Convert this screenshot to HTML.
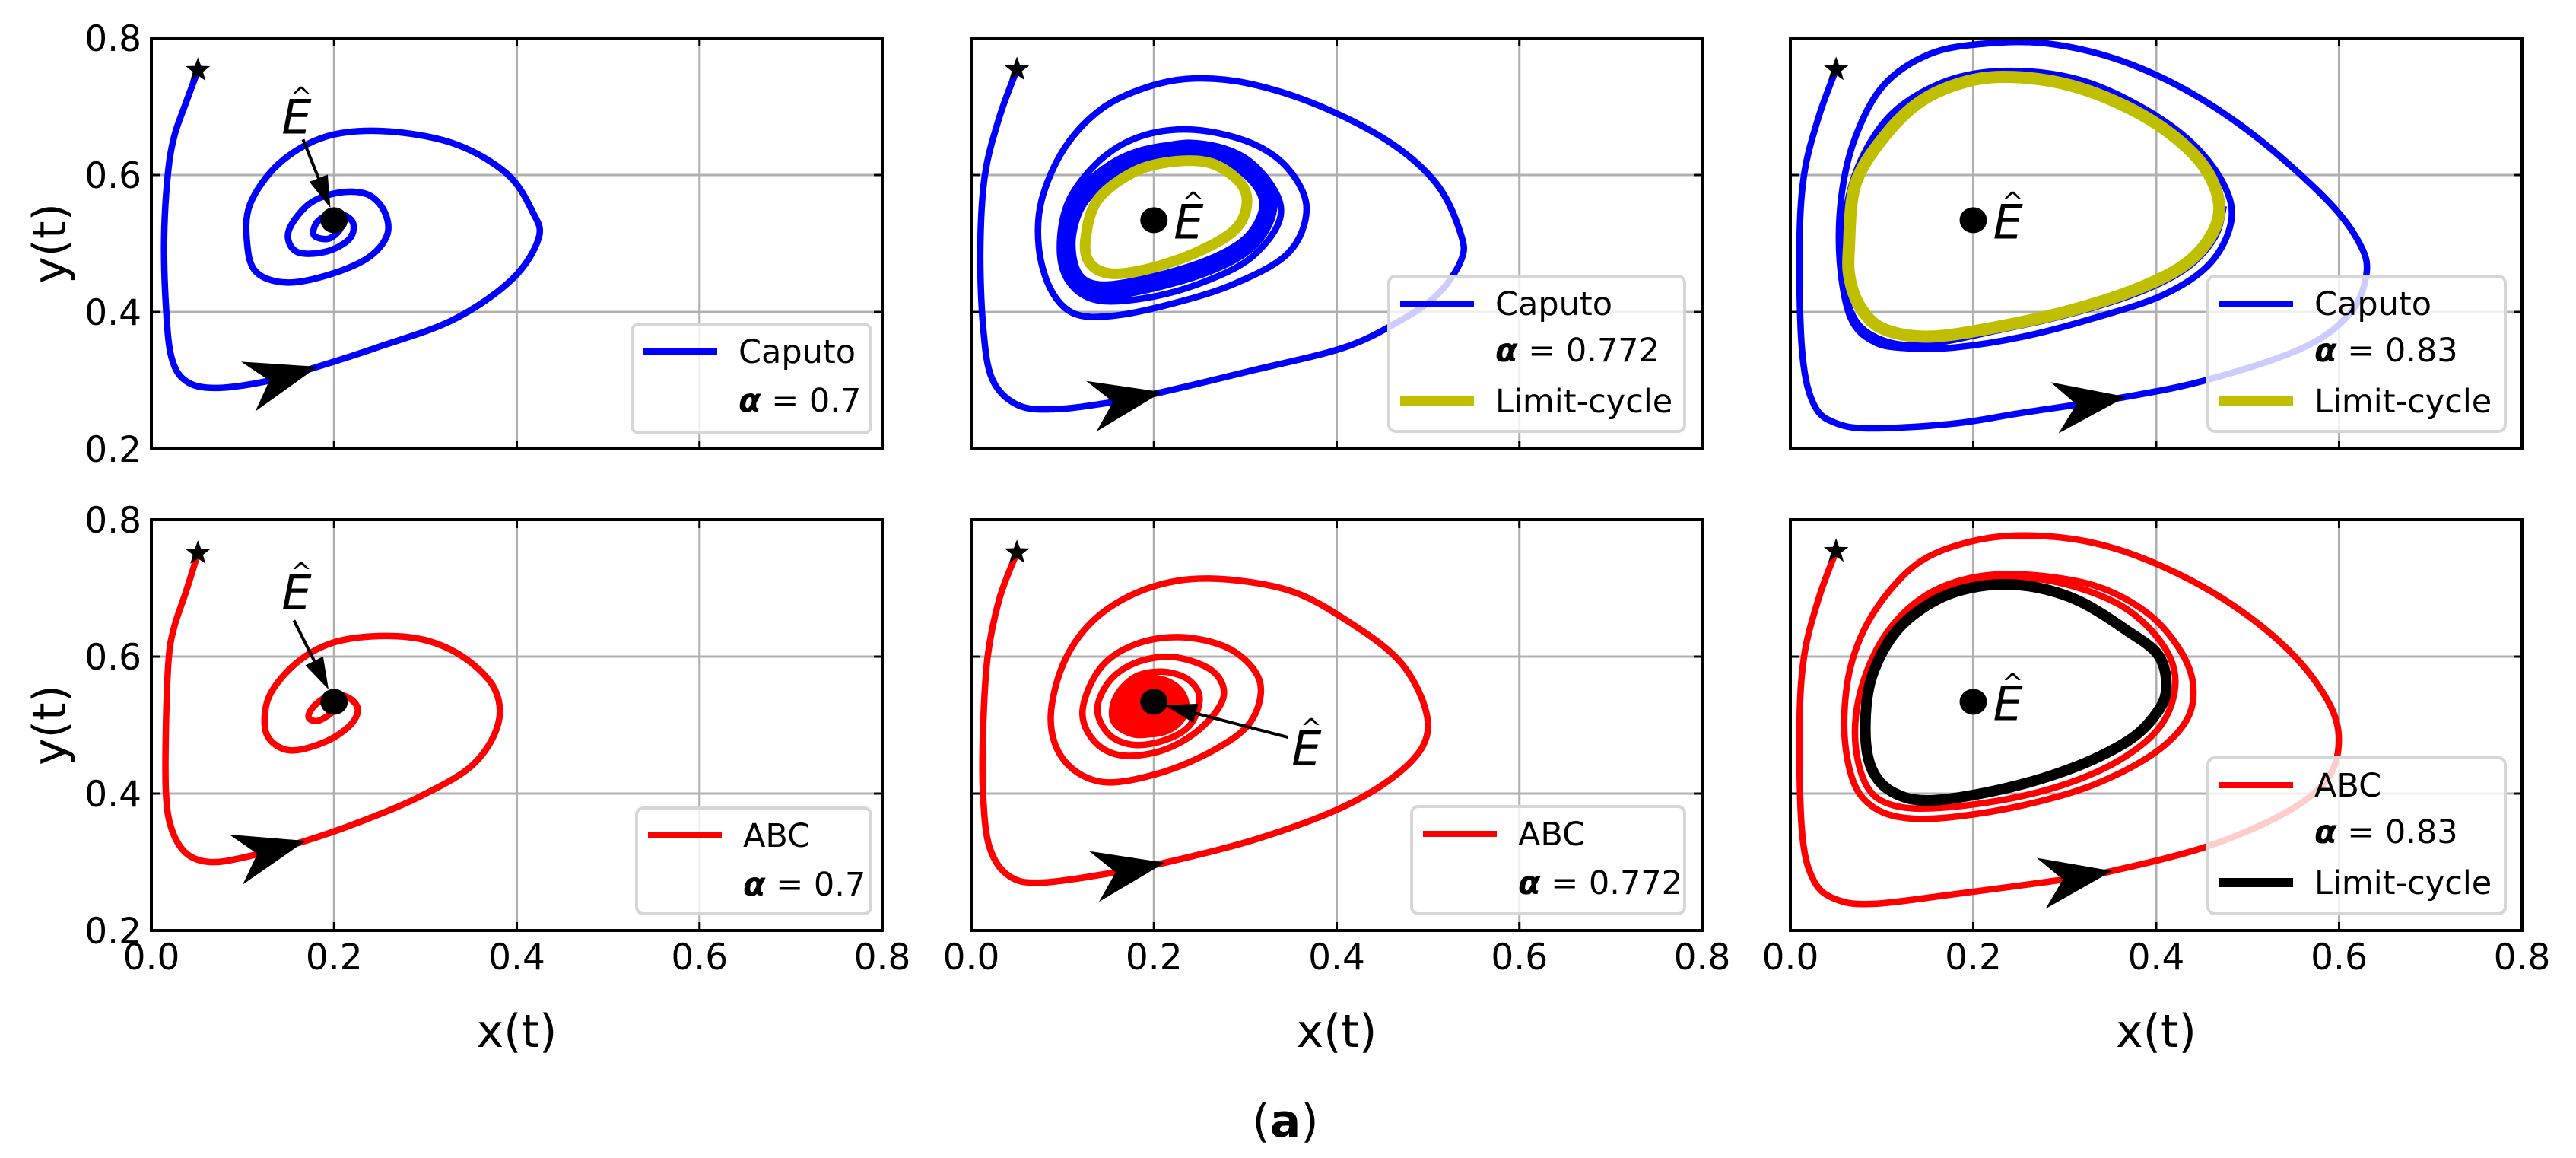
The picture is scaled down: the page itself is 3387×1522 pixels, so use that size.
<!DOCTYPE html>
<html><head><meta charset="utf-8"><style>
html,body{margin:0;padding:0;background:#fff}
svg{display:block}
text{font-family:"DejaVu Sans","Liberation Sans",sans-serif}
</style></head><body>
<svg id="fig" width="3387" height="1522" viewBox="0 0 3387 1522" xmlns="http://www.w3.org/2000/svg"></svg>
<script>
// ---------- data ----------
const xTicks = [0.0, 0.2, 0.4, 0.6, 0.8];
const yTicks = [0.2, 0.4, 0.6, 0.8];
const xTickLabels = ["0.0", "0.2", "0.4", "0.6", "0.8"];
const yTickLabels = ["0.2", "0.4", "0.6", "0.8"];
const equilibrium = [0.2, 0.534];

const caputo07 = [[0.051,0.753],[0.038,0.706],[0.025,0.656],[0.018,0.6],[0.014,0.507],[0.016,0.408],[0.022,0.334],[0.038,0.299],[0.07,0.289],[0.127,0.299],[0.182,0.32],[0.249,0.349],[0.331,0.389],[0.395,0.448],[0.424,0.508],[0.417,0.547],[0.389,0.602],[0.331,0.646],[0.255,0.664],[0.191,0.656],[0.14,0.617],[0.108,0.557],[0.105,0.498],[0.115,0.458],[0.147,0.443],[0.191,0.453],[0.236,0.478],[0.258,0.512],[0.255,0.547],[0.236,0.572],[0.204,0.574],[0.172,0.557],[0.15,0.517],[0.159,0.488],[0.191,0.488],[0.217,0.507],[0.22,0.532],[0.201,0.545],[0.182,0.532],[0.178,0.512],[0.194,0.507],[0.207,0.522],[0.201,0.535]];
const abc07 = [[0.051,0.751],[0.038,0.695],[0.025,0.643],[0.019,0.597],[0.016,0.499],[0.016,0.401],[0.022,0.349],[0.038,0.313],[0.064,0.3],[0.102,0.307],[0.169,0.331],[0.229,0.359],[0.293,0.395],[0.351,0.441],[0.379,0.499],[0.376,0.552],[0.344,0.597],[0.3,0.624],[0.249,0.63],[0.198,0.62],[0.159,0.591],[0.13,0.545],[0.124,0.499],[0.134,0.473],[0.156,0.463],[0.191,0.476],[0.217,0.499],[0.226,0.522],[0.217,0.539],[0.198,0.545],[0.179,0.529],[0.172,0.512],[0.182,0.506],[0.198,0.519],[0.201,0.532]];
const caputo0772 = [[0.05,0.754],[0.031,0.685],[0.015,0.6],[0.01,0.494],[0.013,0.379],[0.023,0.302],[0.051,0.264],[0.092,0.258],[0.153,0.268],[0.209,0.283],[0.306,0.314],[0.408,0.348],[0.469,0.387],[0.51,0.425],[0.536,0.475],[0.536,0.513],[0.51,0.586],[0.459,0.647],[0.383,0.7],[0.306,0.733],[0.245,0.741],[0.194,0.729],[0.143,0.697],[0.102,0.639],[0.077,0.563],[0.074,0.494],[0.087,0.433],[0.112,0.398],[0.153,0.394],[0.214,0.41],[0.286,0.44],[0.347,0.486],[0.367,0.551],[0.347,0.609],[0.306,0.647],[0.245,0.666],[0.189,0.658],[0.143,0.624],[0.107,0.563],[0.097,0.494],[0.107,0.444],[0.138,0.417],[0.194,0.421],[0.255,0.444],[0.306,0.479],[0.337,0.532],[0.332,0.578],[0.296,0.628],[0.24,0.647],[0.18,0.632]];
const caputo0772Band = [[0.105,0.513],[0.122,0.570],[0.168,0.618],[0.224,0.636],[0.276,0.630],[0.314,0.593],[0.325,0.551],[0.304,0.501],[0.255,0.465],[0.179,0.437],[0.133,0.433],[0.110,0.458]];
const limitCycle0772 = [[0.125,0.505],[0.138,0.563],[0.179,0.605],[0.224,0.620],[0.265,0.616],[0.296,0.586],[0.301,0.551],[0.286,0.517],[0.245,0.486],[0.194,0.463],[0.153,0.456],[0.130,0.471]];
const abc0772 = [[0.05,0.752],[0.031,0.685],[0.018,0.6],[0.013,0.494],[0.013,0.398],[0.02,0.322],[0.041,0.28],[0.077,0.27],[0.158,0.285],[0.212,0.299],[0.306,0.331],[0.398,0.375],[0.459,0.421],[0.495,0.471],[0.497,0.524],[0.469,0.593],[0.413,0.651],[0.347,0.697],[0.26,0.714],[0.194,0.7],[0.138,0.658],[0.102,0.593],[0.087,0.509],[0.102,0.448],[0.143,0.417],[0.204,0.429],[0.265,0.463],[0.306,0.505],[0.316,0.563],[0.286,0.609],[0.235,0.628],[0.184,0.62],[0.143,0.586],[0.122,0.524],[0.133,0.479],[0.163,0.456],[0.209,0.463],[0.25,0.494],[0.276,0.54],[0.265,0.578],[0.224,0.599],[0.184,0.593],[0.153,0.567],[0.138,0.524],[0.151,0.486],[0.179,0.471],[0.214,0.479],[0.24,0.501],[0.25,0.54],[0.237,0.567],[0.209,0.578],[0.179,0.57],[0.158,0.54],[0.156,0.505],[0.179,0.486],[0.21,0.49]];
const abc0772Blob = [0.196, 0.528, 0.043, 0.046];
const caputo083 = [[0.05,0.754],[0.031,0.685],[0.015,0.6],[0.01,0.494],[0.013,0.341],[0.026,0.264],[0.051,0.237],[0.092,0.23],[0.179,0.237],[0.255,0.253],[0.367,0.276],[0.459,0.302],[0.561,0.348],[0.612,0.398],[0.63,0.456],[0.622,0.501],[0.587,0.563],[0.51,0.655],[0.434,0.723],[0.357,0.769],[0.281,0.792],[0.214,0.792],[0.153,0.777],[0.102,0.731],[0.071,0.655],[0.056,0.57],[0.054,0.475],[0.066,0.391],[0.092,0.356],[0.128,0.347],[0.179,0.348],[0.255,0.364],[0.332,0.391],[0.408,0.425],[0.459,0.471],[0.482,0.532],[0.474,0.586],[0.439,0.647],[0.383,0.7],[0.316,0.739],[0.245,0.752],[0.179,0.741],[0.122,0.702],[0.087,0.647],[0.064,0.57],[0.057,0.475],[0.067,0.398],[0.095,0.362],[0.143,0.352],[0.23,0.374],[0.306,0.397],[0.38,0.428],[0.433,0.464],[0.464,0.509],[0.474,0.555]];
const limitCycle083 = [[0.064,0.494],[0.071,0.586],[0.102,0.655],[0.143,0.708],[0.194,0.737],[0.245,0.743],[0.306,0.731],[0.367,0.7],[0.418,0.658],[0.454,0.609],[0.469,0.555],[0.459,0.509],[0.429,0.467],[0.378,0.433],[0.306,0.402],[0.23,0.379],[0.153,0.364],[0.102,0.375],[0.077,0.406],[0.065,0.448]];
const abc083 = [[0.05,0.754],[0.031,0.685],[0.015,0.6],[0.01,0.494],[0.013,0.341],[0.026,0.272],[0.051,0.245],[0.092,0.239],[0.179,0.253],[0.296,0.274],[0.352,0.287],[0.454,0.322],[0.536,0.368],[0.582,0.413],[0.599,0.463],[0.592,0.524],[0.551,0.601],[0.485,0.674],[0.408,0.731],[0.332,0.766],[0.255,0.777],[0.194,0.767],[0.138,0.735],[0.092,0.666],[0.066,0.586],[0.059,0.494],[0.069,0.417],[0.092,0.379],[0.128,0.364],[0.179,0.366],[0.255,0.383],[0.332,0.413],[0.398,0.459],[0.434,0.509],[0.44,0.563],[0.423,0.616],[0.388,0.666],[0.332,0.704],[0.255,0.72],[0.194,0.714],[0.143,0.685],[0.102,0.628],[0.077,0.551],[0.071,0.475],[0.084,0.41],[0.112,0.383],[0.163,0.379],[0.245,0.394],[0.316,0.421],[0.372,0.459],[0.408,0.505],[0.421,0.563],[0.408,0.616],[0.367,0.67],[0.306,0.704],[0.245,0.716],[0.184,0.708],[0.133,0.674],[0.097,0.616],[0.077,0.532]];
const limitCycleABC083 = [[0.082,0.494],[0.089,0.57],[0.117,0.639],[0.163,0.685],[0.214,0.704],[0.265,0.702],[0.316,0.681],[0.367,0.639],[0.403,0.601],[0.411,0.551],[0.398,0.513],[0.367,0.475],[0.306,0.436],[0.23,0.406],[0.153,0.39],[0.112,0.402],[0.089,0.436]];

// ---------- layout ----------
const NS = "http://www.w3.org/2000/svg";
const svg = document.getElementById("fig");
const BLUE = "#0000ff", RED = "#ff0000", OLIVE = "#bfbf00";
function el(tag, attrs, parent) {
  const e = document.createElementNS(NS, tag);
  for (const k in attrs) e.setAttribute(k, attrs[k]);
  (parent || svg).appendChild(e);
  return e;
}
function makePanel(x0, y0, w, h) {
  return { x0, y0, w, h, X: v => x0 + v / 0.8 * w, Y: v => y0 + (0.8 - v) / 0.6 * h };
}
function smoothPath(P, pts, closed) {
  const p = pts.map(q => [P.X(q[0]), P.Y(q[1])]);
  const n = p.length;
  const g = i => closed ? p[(i + n) % n] : p[Math.max(0, Math.min(n - 1, i))];
  let d = `M${p[0][0].toFixed(1)},${p[0][1].toFixed(1)}`;
  const segs = closed ? n : n - 1;
  for (let i = 0; i < segs; i++) {
    const p0 = g(i - 1), p1 = g(i), p2 = g(i + 1), p3 = g(i + 2);
    const c1 = [p1[0] + (p2[0] - p0[0]) / 6, p1[1] + (p2[1] - p0[1]) / 6];
    const c2 = [p2[0] - (p3[0] - p1[0]) / 6, p2[1] - (p3[1] - p1[1]) / 6];
    d += ` C${c1[0].toFixed(1)},${c1[1].toFixed(1)} ${c2[0].toFixed(1)},${c2[1].toFixed(1)} ${p2[0].toFixed(1)},${p2[1].toFixed(1)}`;
  }
  if (closed) d += "Z";
  return d;
}
function drawAxes(P, showY, showX) {
  const g = el("g", {});
  
  
  xTicks.forEach((t, i) => {
    const x = P.X(t);
    if (i > 0 && i < xTicks.length - 1) {
      const l = el("line", { x1: x, x2: x, y1: P.y0, y2: P.y0 + P.h, stroke: "#b0b0b0", "stroke-width": 3 }, g);
      
      
      el("line", { x1: x, x2: x, y1: P.y0 + P.h, y2: P.y0 + P.h - 11, stroke: "#000", "stroke-width": 3 }, g);
      el("line", { x1: x, x2: x, y1: P.y0, y2: P.y0 + 11, stroke: "#000", "stroke-width": 3 }, g);
    }
    if (showX) {
      const tx = el("text", { x: x, y: P.y0 + P.h + 51, "font-size": 47, "text-anchor": "middle" }, g);
      tx.textContent = xTickLabels[i];
      
      
    }
  });
  yTicks.forEach((t, i) => {
    const y = P.Y(t);
    if (i > 0 && i < yTicks.length - 1) {
      const l = el("line", { x1: P.x0, x2: P.x0 + P.w, y1: y, y2: y, stroke: "#b0b0b0", "stroke-width": 3 }, g);
      
      
      el("line", { x1: P.x0, x2: P.x0 + 11, y1: y, y2: y, stroke: "#000", "stroke-width": 3 }, g);
      el("line", { x1: P.x0 + P.w, x2: P.x0 + P.w - 11, y1: y, y2: y, stroke: "#000", "stroke-width": 3 }, g);
    }
    if (showY) {
      const ty = el("text", { x: 186, y: y + 17, "font-size": 47, "text-anchor": "end" }, g);
      ty.textContent = yTickLabels[i];
      
      
    }
  });
  if (showY) {
    const cy = P.y0 + P.h / 2;
    const yl = el("text", { x: 0, y: 0, "font-size": 60, "text-anchor": "middle", transform: `translate(86,${cy}) rotate(-90)` }, g);
    yl.textContent = "y(t)";
    
    
  }
  if (showX) {
    const xl = el("text", { x: P.x0 + P.w / 2, y: P.y0 + P.h + 153, "font-size": 60, "text-anchor": "middle" }, g);
    xl.textContent = "x(t)";
    
    
  }
}
function drawFrame(P) {
  const r = el("rect", { x: P.x0, y: P.y0, width: P.w, height: P.h, fill: "none", stroke: "#000", "stroke-width": 4 });
  
  
}
function drawCurve(P, pts, color, width, closed, name) {
  const p = el("path", { d: smoothPath(P, pts, closed), fill: "none", stroke: color, "stroke-width": width, "stroke-linejoin": "round", "stroke-linecap": "butt" });
  
  
}
function drawArrow(P, pts, idx) {
  const tip = [P.X(pts[idx][0]), P.Y(pts[idx][1])];
  const prev = [P.X(pts[idx - 1][0]), P.Y(pts[idx - 1][1])];
  let ux = tip[0] - prev[0], uy = tip[1] - prev[1];
  const L = Math.hypot(ux, uy); ux /= L; uy /= L;
  const vx = -uy, vy = ux;
  const b = 95, hw = 34, nd = 66;
  const pt = (a, c) => `${(tip[0] - ux * a + vx * c).toFixed(1)},${(tip[1] - uy * a + vy * c).toFixed(1)}`;
  const a = el("polygon", { points: `${tip[0]},${tip[1]} ${pt(b, hw)} ${pt(nd, 0)} ${pt(b, -hw)}`, fill: "#000" });
  
  
}
function drawStar(P, pt) {
  const cx = P.X(pt[0]), cy = P.Y(pt[1]);
  let s = "";
  for (let i = 0; i < 10; i++) {
    const r = i % 2 ? 7 : 17, ang = -Math.PI / 2 + i * Math.PI / 5;
    s += `${(cx + r * Math.cos(ang)).toFixed(1)},${(cy + r * Math.sin(ang)).toFixed(1)} `;
  }
  const st = el("polygon", { points: s, fill: "#000" });
  
  
}
function drawEq(P) {
  const c = el("ellipse", { cx: P.X(equilibrium[0]), cy: P.Y(equilibrium[1]), rx: 18, ry: 17, fill: "#000" });
  
  
}
function drawEhat(P, x, y) {
  const cx = P.X(x), cy = P.Y(y);
  const t = el("text", { x: cx, y: cy + 23, "font-size": 62, "font-style": "italic", "text-anchor": "middle" });
  t.textContent = "E";
  
  
  const h = el("text", { x: cx + 6, y: cy - 14, "font-size": 34, "text-anchor": "middle" });
  h.textContent = "^";
  
  
}
function drawAnnot(P, from, to) {
  const x1 = P.X(from[0]), y1 = P.Y(from[1]), x2 = P.X(to[0]), y2 = P.Y(to[1]);
  let ux = x2 - x1, uy = y2 - y1; const L = Math.hypot(ux, uy); ux /= L; uy /= L;
  const hl = 42, hw = 13;
  el("line", { x1: x1, y1: y1, x2: x2 - ux * hl * 0.8, y2: y2 - uy * hl * 0.8, stroke: "#000", "stroke-width": 4 });
  const hd = el("polygon", { points: `${x2},${y2} ${x2 - ux * hl - uy * hw},${y2 - uy * hl + ux * hw} ${x2 - ux * hl + uy * hw},${y2 - uy * hl - ux * hw}`, fill: "#000" });
  
  
}
function drawLegend(x, y, w, h, entries) {
  const g = el("g", {});
  
  
  el("rect", { x: x, y: y, width: w, height: h, rx: 9, fill: "rgba(255,255,255,0.8)", stroke: "#d6d6d6", "stroke-width": 4 }, g);
  entries.forEach(e => {
    if (e.color) {
      const ln = el("line", { x1: x + 15, x2: x + 112, y1: y + e.dy, y2: y + e.dy, stroke: e.color, "stroke-width": e.lw }, g);
      
      
    }
    const t = el("text", { x: x + 140, y: y + e.dy + 15, "font-size": 43 }, g);
    
    
    if (e.alpha) {
      const a = el("tspan", { "font-weight": "bold", "font-style": "italic" }, t);
      a.textContent = "\u03b1";
      const r = el("tspan", {}, t);
      r.textContent = " = " + e.alpha;
    } else t.textContent = e.label;
  });
}

const colX = [199, 1277, 2354], colW = [961, 961, 962], rowY = [50, 683], H = 540;
const P = [];
for (let r = 0; r < 2; r++) for (let c = 0; c < 3; c++) P.push(makePanel(colX[c], rowY[r], colW[c], H));
P.forEach((p, i) => drawAxes(p, i % 3 === 0, i >= 3));

const LW = 8.5;
// top-left
drawCurve(P[0], caputo07, BLUE, LW, false, 'caputo-trajectory');
drawArrow(P[0], caputo07, 10); drawStar(P[0], caputo07[0]); drawEq(P[0]);
drawAnnot(P[0], [0.166, 0.652], [0.196, 0.552]); drawEhat(P[0], 0.159, 0.686);
// top-middle
drawCurve(P[1], caputo0772, BLUE, LW, false, 'caputo-trajectory');
drawCurve(P[1], caputo0772Band, BLUE, 24, true, 'caputo-converging-band');
drawCurve(P[1], limitCycle0772, OLIVE, 14, true, 'limit-cycle');
drawArrow(P[1], caputo0772, 9); drawStar(P[1], caputo0772[0]); drawEq(P[1]); drawEhat(P[1], 0.238, 0.533);
// top-right
drawCurve(P[2], caputo083, BLUE, LW, false, 'caputo-trajectory');
drawCurve(P[2], limitCycle083, OLIVE, 16, true, 'limit-cycle');
drawArrow(P[2], caputo083, 10); drawStar(P[2], caputo083[0]); drawEq(P[2]); drawEhat(P[2], 0.238, 0.533);
// bottom-left
drawCurve(P[3], abc07, RED, LW, false, 'abc-trajectory');
drawArrow(P[3], abc07, 10); drawStar(P[3], abc07[0]); drawEq(P[3]);
drawAnnot(P[3], [0.156, 0.653], [0.194, 0.552]); drawEhat(P[3], 0.159, 0.695);
// bottom-middle
drawCurve(P[4], abc0772, RED, LW, false, 'abc-trajectory');
(function () {
  const b = el("ellipse", { cx: P[4].X(abc0772Blob[0]), cy: P[4].Y(abc0772Blob[1]), rx: abc0772Blob[2] / 0.8 * P[4].w, ry: abc0772Blob[3] / 0.6 * H, fill: RED });
  
  
})();
drawArrow(P[4], abc0772, 9); drawStar(P[4], abc0772[0]); drawEq(P[4]);
drawAnnot(P[4], [0.347, 0.482], [0.212, 0.529]); drawEhat(P[4], 0.367, 0.467);
// bottom-right
drawCurve(P[5], abc083, RED, LW, false, 'abc-trajectory');
drawCurve(P[5], limitCycleABC083, "#000", 14, true, 'limit-cycle');
drawArrow(P[5], abc083, 10); drawStar(P[5], abc083[0]); drawEq(P[5]); drawEhat(P[5], 0.238, 0.533);

P.forEach(drawFrame);

drawLegend(831, 426, 314, 143, [{ color: BLUE, lw: 8, dy: 36, label: "Caputo" }, { alpha: "0.7", dy: 100 }]);
drawLegend(1826, 363, 389, 204, [{ color: BLUE, lw: 8, dy: 36, label: "Caputo" }, { alpha: "0.772", dy: 97 }, { color: OLIVE, lw: 12, dy: 164, label: "Limit-cycle" }]);
drawLegend(2903, 363, 391, 204, [{ color: BLUE, lw: 8, dy: 36, label: "Caputo" }, { alpha: "0.83", dy: 97 }, { color: OLIVE, lw: 12, dy: 164, label: "Limit-cycle" }]);
drawLegend(837, 1062, 308, 139, [{ color: RED, lw: 8, dy: 36, label: "ABC" }, { alpha: "0.7", dy: 100 }]);
drawLegend(1856, 1060, 359, 141, [{ color: RED, lw: 8, dy: 36, label: "ABC" }, { alpha: "0.772", dy: 100 }]);
drawLegend(2903, 996, 391, 205, [{ color: RED, lw: 8, dy: 36, label: "ABC" }, { alpha: "0.83", dy: 97 }, { color: "#000", lw: 12, dy: 164, label: "Limit-cycle" }]);

const cap = el("text", { x: 1690, y: 1494, "font-size": 60, "text-anchor": "middle", "font-family": "Liberation Serif, serif" });


const c1 = el("tspan", {}, cap); c1.textContent = "(";
const c2 = el("tspan", { "font-weight": "bold" }, cap); c2.textContent = "a";
const c3 = el("tspan", {}, cap); c3.textContent = ")";
</script>
</body></html>
